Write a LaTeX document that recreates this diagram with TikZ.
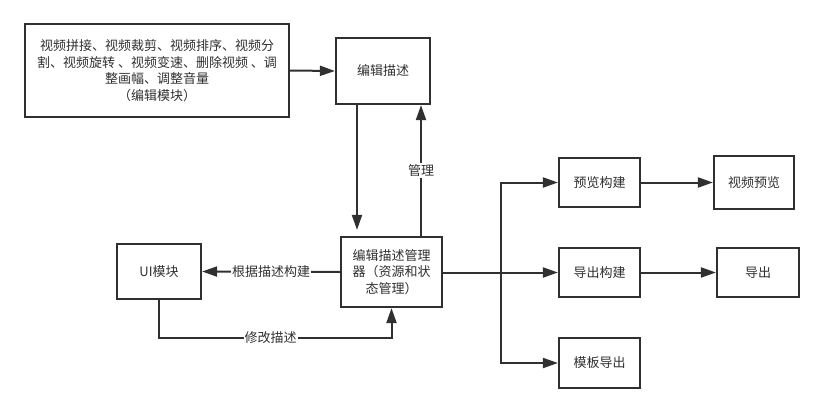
\documentclass[tikz,border=0pt]{standalone}
\usepackage{fontspec}
\setmainfont{Noto Sans CJK SC}
\usetikzlibrary{arrows.meta}
\definecolor{ink}{HTML}{303030}
\begin{document}
\begin{tikzpicture}[x=1pt,y=-1pt,
  box/.style={draw=ink,line width=2.2pt,inner sep=0pt,align=center,text=ink,
    font=\fontsize{13pt}{16.5pt}\selectfont},
  arr/.style={draw=ink,line width=2pt,-{Triangle[length=15pt,width=10pt]}},
  ln/.style={draw=ink,line width=2pt},
  lab/.style={fill=white,inner sep=1pt,text=ink,font=\fontsize{13pt}{16pt}\selectfont}]
\useasboundingbox[fill=white] (0,0) rectangle (824,412);
\node[box,minimum width=264pt,minimum height=93pt] (desc) at (157,70.5)
  {视频拼接、视频裁剪、视频排序、视频分\\割、视频旋转 、视频变速、删除视频 、调\\整画幅、调整音量\\（编辑模块）};
\node[box,minimum width=94pt,minimum height=66pt] (edit) at (383,71) {编辑描述};
\node[box,minimum width=101pt,minimum height=70pt] (mgr) at (391.5,272) {编辑描述管理\\器（资源和状\\态管理）};
\node[box,minimum width=84pt,minimum height=55pt] (ui) at (159,271.5) {UI模块};
\node[box,minimum width=81pt,minimum height=49pt] (pv) at (599.5,182.5) {预览构建};
\node[box,minimum width=80pt,minimum height=53pt] (vp) at (754,182.5) {视频预览};
\node[box,minimum width=81pt,minimum height=49pt] (ec) at (599.5,272.5) {导出构建};
\node[box,minimum width=82pt,minimum height=49pt] (ex) at (758,272.5) {导出};
\node[box,minimum width=81pt,minimum height=50pt] (tp) at (599.5,363) {模板导出};
\coordinate (xd) at (357,0);
\coordinate (xu) at (421,0);
\coordinate (yb) at (0,338);
\coordinate (j) at (501,272.5);
\draw[arr] (desc.east) -- (edit.west);
\draw[arr,shorten >=6pt] (edit.south -| xd) -- (mgr.north -| xd);
\draw[arr] (mgr.north -| xu) -- node[lab]{管理} (edit.south -| xu);
\draw[arr] (mgr.west) -- node[lab,pos=0.5]{根据描述构建} (ui.east);
\draw[arr] (ui.south) -- (ui.south |- yb) -- node[lab,pos=0.48]{修改描述} (mgr.south |- yb) -- (mgr.south);
\draw[ln] (mgr.east |- j) -- (j);
\draw[arr] (j) -- (ec.west);
\draw[arr] (j) |- (pv.west);
\draw[arr] (j) |- (tp.west);
\draw[arr] (pv.east) -- (vp.west);
\draw[arr] (ec.east) -- (ex.west);
\end{tikzpicture}
\end{document}
